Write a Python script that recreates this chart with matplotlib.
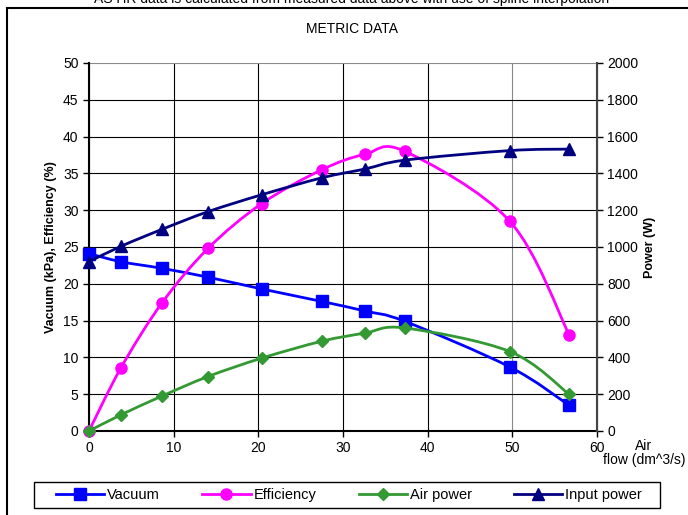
import numpy as np
import matplotlib.pyplot as plt
from matplotlib.path import Path
from matplotlib.patches import PathPatch, Rectangle
from matplotlib.lines import Line2D

plt.rcParams['font.family'] = ['Liberation Sans', 'DejaVu Sans']

# measured data
air_flow = [0, 3.78, 8.62, 14.05, 20.4, 27.5, 32.6, 37.3, 49.7, 56.7]
vacuum = [24.1, 23.0, 22.1, 20.9, 19.3, 17.6, 16.3, 14.9, 8.7, 3.5]
efficiency = [0, 8.6, 17.4, 24.8, 30.9, 35.5, 37.6, 38.0, 28.5, 13.1]
air_power = [0, 88, 190, 296, 396, 488, 532, 560, 432, 200]
input_power = [920, 1004, 1096, 1192, 1284, 1376, 1424, 1472, 1524, 1532]


def smooth_path(x, y):
    # Excel-like smoothed line: cubic Bezier segments (Catmull-Rom control points)
    pts = np.column_stack([x, y]).astype(float)
    ext = np.vstack([pts[0], pts, pts[-1]])
    verts = [pts[0]]
    codes = [Path.MOVETO]
    for i in range(1, len(ext) - 2):
        p0, p1, p2, p3 = ext[i - 1], ext[i], ext[i + 1], ext[i + 2]
        verts += [p1 + (p2 - p0) / 6, p2 - (p3 - p1) / 6, p2]
        codes += [Path.CURVE4] * 3
    return Path(verts, codes)


def draw(ax, x, y, color, marker, ms):
    ax.add_patch(PathPatch(smooth_path(x, y), fill=False, edgecolor=color, lw=2, zorder=3))
    ax.plot(x, y, ls='none', marker=marker, ms=ms, color=color, zorder=4, clip_on=False)


fig = plt.figure(figsize=(6.88, 5.15), dpi=100)
ax = fig.add_axes([89 / 688, 1 - 431 / 515, 508 / 688, 368 / 515])
ax2 = ax.twinx()

draw(ax, air_flow, vacuum, '#0000FF', 's', 8)
draw(ax, air_flow, efficiency, '#FF00FF', 'o', 8)
draw(ax2, air_flow, air_power, '#339933', 'D', 6)
draw(ax2, air_flow, input_power, '#000080', '^', 8)

ax.set_xlim(0, 60)
ax.set_ylim(0, 50)
ax2.set_ylim(0, 2000)
ax.set_xticks(range(0, 61, 10))
ax.set_yticks(range(0, 51, 5))
ax2.set_yticks(range(0, 2001, 200))
ax.grid(True, color='black', lw=0.8)
ax.set_axisbelow(True)
ax.get_xgridlines()[5].set_color('#888888')
ax.get_ygridlines()[-1].set_color('#888888')

for a in (ax, ax2):
    a.tick_params(labelsize=10, direction='out', length=4, width=1)
    a.spines['top'].set_visible(False)
ax.spines['left'].set_linewidth(1.5)
ax.spines['bottom'].set_linewidth(1.5)
ax2.spines['right'].set_linewidth(1.5)
ax2.spines['right'].set_color('#444444')
ax2.spines['left'].set_visible(False)
ax2.spines['bottom'].set_visible(False)

ax.set_ylabel('Vacuum (kPa), Efficiency (%)', fontsize=9, fontweight='bold', labelpad=4)
ax2.set_ylabel('Power (W)', fontsize=9, fontweight='bold', labelpad=4)

fig.text(644 / 688, 1 - 453 / 515, 'Air\nflow (dm^3/s)', ha='center', va='center', fontsize=10,
         linespacing=1.0)
fig.text(352 / 688, 1 - 29 / 515, 'METRIC DATA', ha='center', va='center', fontsize=10)
fig.text(352 / 688, 1 - 3 / 515, 'AS HR data is calculated from measured data above with use of spline interpolation',
         ha='center', va='baseline', fontsize=10)

fig.patches.append(Rectangle((7 / 688, -0.05), 1.1, 1 - 8 / 515 + 0.05, transform=fig.transFigure,
                             fill=False, edgecolor='black', lw=1.5))
# legend box
fig.patches.append(Rectangle((34 / 688, 1 - 508 / 515), 626 / 688, 26 / 515, transform=fig.transFigure,
                             fill=False, edgecolor='black', lw=1))

handles = [
    Line2D([], [], color='#0000FF', lw=2, marker='s', ms=8),
    Line2D([], [], color='#FF00FF', lw=2, marker='o', ms=8),
    Line2D([], [], color='#339933', lw=2, marker='D', ms=6),
    Line2D([], [], color='#000080', lw=2, marker='^', ms=8),
]
fig.legend(handles, ['Vacuum', 'Efficiency', 'Air power', 'Input power'], ncol=4,
           loc='center', bbox_to_anchor=(349 / 688, 1 - 495 / 515), fontsize=10.5, frameon=False,
           handlelength=3.3, handletextpad=0.2, columnspacing=2.9, borderaxespad=0)

fig.savefig('out.png', dpi=100)
